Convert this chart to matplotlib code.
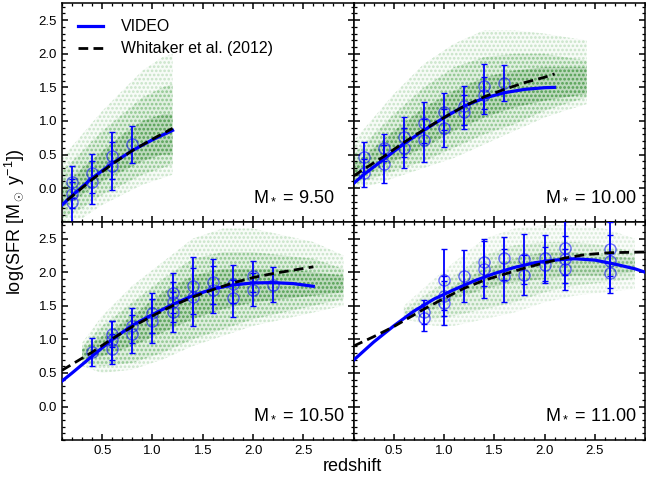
import numpy as np
import matplotlib
matplotlib.use("Agg")
import matplotlib.pyplot as plt
from matplotlib.ticker import MultipleLocator

plt.rcParams['font.family'] = ['Liberation Sans', 'DejaVu Sans']
plt.rcParams['mathtext.fontset'] = 'custom'
plt.rcParams['mathtext.rm'] = 'Liberation Sans'
plt.rcParams['mathtext.it'] = 'Liberation Sans:italic'
plt.rcParams['hatch.linewidth'] = 1.3

masses = ['9.50', '10.00', '10.50', '11.00']

# VIDEO binned points (redshift, log SFR, error), per mass panel
pz1 = [0.2, 0.2, 0.2, 0.4, 0.4, 0.6, 0.6, 0.8]
py1 = [0.09, -0.08, -0.21, 0.22, 0.09, 0.48, 0.33, 0.65]
pe1 = [0.24, 0.22, 0.30, 0.29, 0.32, 0.35, 0.35, 0.27]

pz2 = [0.2, 0.2, 0.4, 0.4, 0.6, 0.6, 0.8, 0.8, 1.0, 1.0, 1.2, 1.2, 1.4, 1.4, 1.6]
py2 = [0.46, 0.23, 0.60, 0.36, 0.76, 0.60, 0.975, 0.71, 1.14, 0.90, 1.23, 1.13, 1.515, 1.38, 1.57]
pe2 = [0.22, 0.21, 0.20, 0.28, 0.30, 0.30, 0.30, 0.32, 0.28, 0.28, 0.29, 0.25, 0.33, 0.27, 0.27]

pz3 = [0.4, 0.6, 0.6, 0.6, 0.8, 0.8, 1.0, 1.0, 1.2, 1.2, 1.2, 1.4, 1.4, 1.6, 1.6, 1.8, 1.8, 2.0, 2.0, 2.2]
py3 = [0.81, 1.08, 0.99, 0.86, 1.20, 1.08, 1.39, 1.27, 1.69, 1.56, 1.41, 1.80, 1.63, 1.855, 1.74, 1.82, 1.61, 1.94, 1.74, 1.81]
pe3 = [0.21, 0.20, 0.29, 0.22, 0.26, 0.28, 0.30, 0.33, 0.30, 0.30, 0.30, 0.42, 0.43, 0.335, 0.35, 0.28, 0.27, 0.23, 0.25, 0.26]

pz4 = [0.8, 0.8, 1.0, 1.0, 1.0, 1.2, 1.4, 1.4, 1.6, 1.6, 1.8, 1.8, 2.0, 2.0, 2.2, 2.2, 2.2, 2.65, 2.65, 2.65]
py4 = [1.41, 1.32, 1.89, 1.65, 1.54, 1.94, 2.15, 2.04, 2.21, 1.95, 2.20, 1.96, 2.21, 2.11, 2.36, 2.19, 2.04, 2.35, 2.16, 1.99]
pe4 = [0.18, 0.20, 0.46, 0.30, 0.33, 0.39, 0.35, 0.42, 0.32, 0.40, 0.37, 0.30, 0.34, 0.27, 0.40, 0.35, 0.30, 0.40, 0.40, 0.30]

# VIDEO fit (blue) and Whitaker et al. (2012) relation (black)
bz1 = [0.1, 0.2, 0.4, 0.6, 0.8, 1.0, 1.2]
by1 = [-0.25, -0.11, 0.15, 0.37, 0.56, 0.72, 0.86]
kz1 = [0.15, 0.2, 0.4, 0.6, 0.8, 1.0, 1.2]
ky1 = [-0.18, -0.12, 0.13, 0.36, 0.56, 0.73, 0.89]

bz2 = [0.1, 0.2, 0.4, 0.6, 0.8, 1.0, 1.2, 1.4, 1.6, 1.8, 2.0, 2.1]
by2 = [0.07, 0.20, 0.43, 0.66, 0.86, 1.05, 1.22, 1.34, 1.42, 1.47, 1.495, 1.5]
kz2 = [0.1, 0.2, 0.4, 0.6, 0.8, 1.0, 1.2, 1.4, 1.6, 1.8, 2.0, 2.1]
ky2 = [0.18, 0.28, 0.47, 0.68, 0.87, 1.05, 1.22, 1.36, 1.47, 1.57, 1.65, 1.70]

bz3 = [0.1, 0.2, 0.4, 0.6, 0.8, 1.0, 1.2, 1.4, 1.6, 1.8, 2.0, 2.2, 2.4, 2.6]
by3 = [0.38, 0.50, 0.75, 1.0, 1.21, 1.37, 1.52, 1.65, 1.75, 1.81, 1.84, 1.845, 1.83, 1.79]
kz3 = [0.1, 0.2, 0.4, 0.6, 0.8, 1.0, 1.2, 1.4, 1.6, 1.8, 2.0, 2.2, 2.4, 2.6]
ky3 = [0.54, 0.63, 0.81, 1.01, 1.19, 1.35, 1.50, 1.63, 1.74, 1.84, 1.92, 1.98, 2.03, 2.08]

bz4 = [0.1, 0.3, 0.5, 0.7, 0.9, 1.1, 1.3, 1.5, 1.7, 1.9, 2.1, 2.3, 2.5, 2.7, 2.9, 3.0]
by4 = [0.69, 0.96, 1.20, 1.42, 1.60, 1.74, 1.87, 1.98, 2.07, 2.14, 2.18, 2.20, 2.18, 2.12, 2.05, 2.0]
kz4 = [0.1, 0.3, 0.5, 0.8, 1.0, 1.2, 1.4, 1.6, 1.8, 2.0, 2.2, 2.4, 2.65, 3.0]
ky4 = [0.90, 1.04, 1.19, 1.45, 1.61, 1.76, 1.88, 1.97, 2.06, 2.14, 2.21, 2.26, 2.29, 2.30]

# extent of the galaxy cloud: sparse outer envelope, bulk, dense core per panel
cz1 = [0.1, 0.3, 0.5, 0.7, 0.9, 1.1, 1.2]
clo1 = [-0.5, -0.45, -0.25, -0.1, 0.05, 0.15, 0.2]
chi1 = [0.45, 0.8, 1.15, 1.45, 1.75, 1.95, 2.0]
mlo1 = [-0.45, -0.3, -0.1, 0.05, 0.2, 0.3, 0.35]
mhi1 = [0.25, 0.55, 0.85, 1.1, 1.35, 1.5, 1.55]
dlo1 = [-0.3, -0.1, 0.1, 0.25, 0.4, 0.5, 0.5]
dhi1 = [0.0, 0.3, 0.55, 0.8, 1.0, 1.1, 1.1]

cz2 = [0.1, 0.3, 0.5, 0.8, 1.1, 1.4, 1.7, 2.0, 2.2, 2.42]
clo2 = [0.0, 0.05, 0.15, 0.3, 0.45, 0.65, 0.85, 1.05, 1.15, 1.25]
chi2 = [0.7, 1.05, 1.4, 1.85, 2.15, 2.35, 2.35, 2.3, 2.25, 2.2]
mlo2 = [0.05, 0.15, 0.25, 0.4, 0.6, 0.8, 0.95, 1.15, 1.25, 1.35]
mhi2 = [0.5, 0.8, 1.1, 1.5, 1.8, 1.95, 2.0, 2.0, 1.95, 1.9]
dlo2 = [0.15, 0.25, 0.4, 0.6, 0.85, 1.05, 1.2, 1.3, 1.35, 1.4]
dhi2 = [0.35, 0.6, 0.85, 1.2, 1.45, 1.65, 1.75, 1.8, 1.8, 1.8]

cz3 = [0.3, 0.5, 0.8, 1.1, 1.4, 1.7, 2.0, 2.3, 2.6, 2.9]
clo3 = [0.6, 0.5, 0.55, 0.7, 0.9, 1.05, 1.2, 1.3, 1.4, 1.5]
chi3 = [0.95, 1.35, 1.8, 2.15, 2.5, 2.65, 2.65, 2.55, 2.45, 2.25]
mlo3 = [0.65, 0.6, 0.65, 0.8, 1.0, 1.15, 1.3, 1.4, 1.5, 1.6]
mhi3 = [0.9, 1.2, 1.55, 1.9, 2.2, 2.3, 2.3, 2.25, 2.2, 2.05]
dlo3 = [0.7, 0.75, 0.9, 1.1, 1.3, 1.45, 1.55, 1.6, 1.65, 1.7]
dhi3 = [0.85, 1.05, 1.35, 1.7, 1.95, 2.05, 2.05, 2.05, 2.0, 1.95]

cz4 = [0.6, 0.9, 1.1, 1.4, 1.7, 2.0, 2.3, 2.6, 2.9]
clo4 = [1.3, 1.2, 1.2, 1.3, 1.4, 1.55, 1.65, 1.7, 1.75]
chi4 = [1.5, 1.9, 2.15, 2.5, 2.65, 2.7, 2.7, 2.65, 2.5]
mlo4 = [1.35, 1.3, 1.35, 1.45, 1.55, 1.7, 1.8, 1.85, 1.9]
mhi4 = [1.45, 1.75, 1.95, 2.25, 2.4, 2.45, 2.45, 2.4, 2.3]
dlo4 = [1.4, 1.45, 1.6, 1.75, 1.85, 1.9, 1.95, 1.95, 2.0]
dhi4 = [1.4, 1.55, 1.8, 2.05, 2.2, 2.3, 2.3, 2.25, 2.2]

points = [(pz1, py1, pe1), (pz2, py2, pe2), (pz3, py3, pe3), (pz4, py4, pe4)]
blue = [(bz1, by1), (bz2, by2), (bz3, by3), (bz4, by4)]
black = [(kz1, ky1), (kz2, ky2), (kz3, ky3), (kz4, ky4)]
clouds = [(cz1, clo1, chi1, mlo1, mhi1, dlo1, dhi1), (cz2, clo2, chi2, mlo2, mhi2, dlo2, dhi2),
          (cz3, clo3, chi3, mlo3, mhi3, dlo3, dhi3), (cz4, clo4, chi4, mlo4, mhi4, dlo4, dhi4)]
cloud_strength = [1.0, 1.0, 1.0, 0.7]

fig, axes = plt.subplots(2, 2, figsize=(6.46, 4.79), dpi=100, sharex=True, sharey=True)
plt.subplots_adjust(left=0.096, right=0.9985, top=0.993, bottom=0.081, wspace=0, hspace=0)

for i, ax in enumerate(axes.flat):
    cz, clo, chi, mlo, mhi, dlo, dhi = clouds[i]
    a = cloud_strength[i]
    ax.fill_between(cz, clo, chi, facecolor=(0.0, 0.5, 0.0, 0.03 * a),
                    edgecolor=(0.0, 0.5, 0.0, 0.18 * a), hatch='....', linewidth=0)
    ax.fill_between(cz, mlo, mhi, facecolor=(0.0, 0.5, 0.0, 0.09 * a),
                    edgecolor=(0.0, 0.5, 0.0, 0.2 * a), hatch='....', linewidth=0)
    ax.fill_between(cz, dlo, dhi, facecolor=(0.0, 0.42, 0.0, 0.16 * a),
                    edgecolor=(0.0, 0.4, 0.0, 0.25 * a), hatch='....', linewidth=0)
    z, y, e = points[i]
    ax.errorbar(z, y, yerr=e, fmt='o', ms=8, mfc='none', mec=(0, 0, 1, 0.55), mew=1.0,
                ecolor='blue', elinewidth=1.3, capsize=2.5, capthick=1.2, zorder=3)
    ax.plot(blue[i][0], blue[i][1], color='blue', lw=2.3, label='VIDEO', zorder=4)
    ax.plot(black[i][0], black[i][1], color='black', lw=2, ls=(0, (3.5, 1.9)),
            label='Whitaker et al. (2012)', zorder=5)
    ax.text(0.656, 0.1, 'M$_*$ = ' + masses[i], transform=ax.transAxes,
            fontsize=13, ha='left', va='baseline')
    ax.set_xlim(0.1, 3.0)
    ax.set_ylim(-0.5, 2.75)
    ax.xaxis.set_major_locator(MultipleLocator(0.5))
    ax.xaxis.set_minor_locator(MultipleLocator(0.1))
    ax.yaxis.set_major_locator(MultipleLocator(0.5))
    ax.yaxis.set_minor_locator(MultipleLocator(0.1))
    ax.tick_params(which='both', direction='in', top=True, right=True, labelsize=9.5)
    ax.tick_params(which='major', length=4, width=1.1)
    ax.tick_params(which='minor', length=2, width=0.9)
    for s in ax.spines.values():
        s.set_linewidth(1.1)

axes[0, 0].set_xticks([0.5, 1.0, 1.5, 2.0, 2.5])
axes[0, 0].set_yticks([0.0, 0.5, 1.0, 1.5, 2.0, 2.5])
axes[0, 0].legend(loc='upper left', frameon=False, fontsize=11.4, handlelength=1.6,
                  handletextpad=1.1, labelspacing=0.45, borderaxespad=0.6)

fig.text(0.022, 0.537, 'log(SFR [M$_\\odot$ y$^{-1}$])', rotation=90,
         ha='center', va='center', fontsize=13)
fig.text(0.545, 0.027, 'redshift', ha='center', va='center', fontsize=13)

plt.savefig('out.png', dpi=100)
